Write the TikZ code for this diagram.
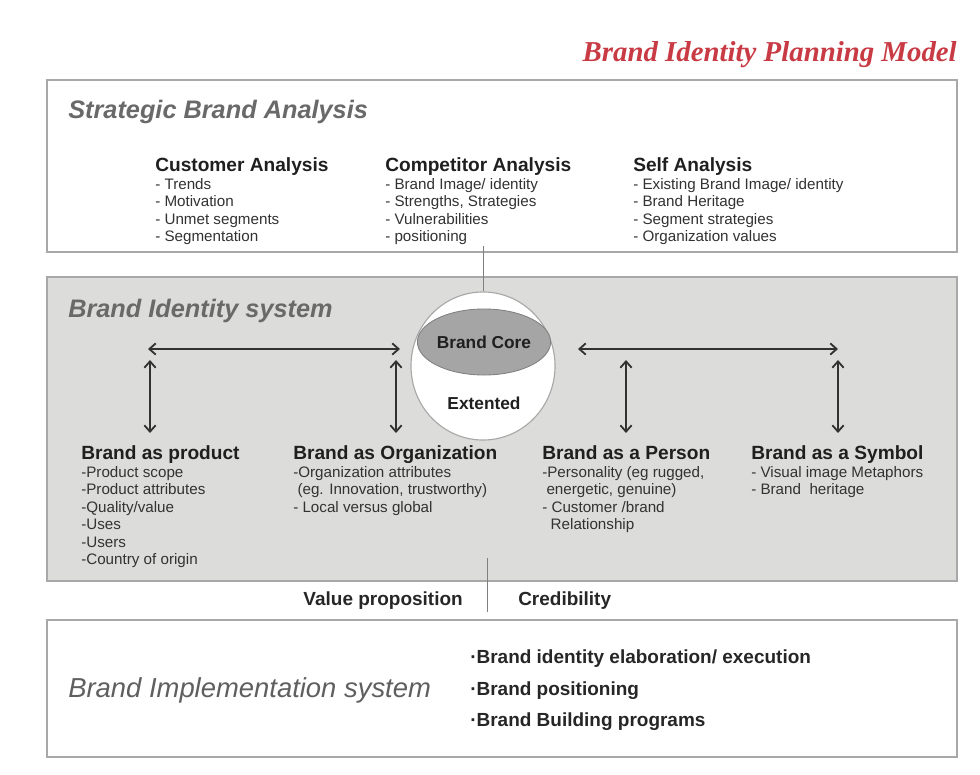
\documentclass[tikz,border=0pt]{standalone}
\usepackage{fontspec}
\setmainfont{Liberation Sans}
\newfontfamily\titlefont{Liberation Serif}
\usetikzlibrary{arrows.meta,shapes.geometric}
\definecolor{titlered}{RGB}{200,58,68}
\definecolor{panelgray}{RGB}{220,220,218}
\definecolor{framegray}{RGB}{168,168,168}
\definecolor{headgray}{RGB}{105,105,105}
\definecolor{coregray}{RGB}{165,165,165}
\definecolor{inkgray}{RGB}{50,50,50}

\begin{document}
\begin{tikzpicture}[x=0.025cm, y=-0.025cm,
    panel/.style={draw=framegray, line width=1.1pt},
    section/.style={anchor=base west, inner sep=0, text=headgray, font=\fontsize{18}{21}\selectfont\bfseries\itshape},
    head/.style={anchor=base west, inner sep=0, text=black!88, font=\fontsize{13.6}{15}\selectfont\bfseries},
    items/.style={anchor=north west, inner sep=0, align=left, text=inkgray, font=\fontsize{10.8}{12.35}\selectfont},
    tag/.style={anchor=base west, inner sep=0, text=black!85, font=\fontsize{13.5}{15}\selectfont\bfseries},
    dbl/.style={{Straight Barb[length=4.5pt,width=8pt]}-{Straight Barb[length=4.5pt,width=8pt]}, line width=1.3pt, draw=inkgray},
    feed/.style={draw=gray, line width=0.6pt}]
  \useasboundingbox (0,0) rectangle (980,775);

  \node[anchor=base east, inner sep=0, text=titlered, font=\titlefont\fontsize{20.5}{24}\selectfont\bfseries\itshape] (title) at (957,62) {Brand Identity Planning Model};

  % panels
  \draw[panel, fill=white] (47,80) rectangle (957,252);
  \draw[panel, fill=panelgray] (47,277) rectangle (957,581);
  \draw[panel, fill=white] (47,620) rectangle (957,757);

  % strategic brand analysis
  \node[section] (sba) at (68,119) {Strategic Brand Analysis};
  \node[head] (cust) at (155,171.5) {Customer Analysis};
  \node[items] (custL) at (155,178.3) {- Trends\\- Motivation\\- Unmet segments\\- Segmentation};
  \node[head] (comp) at (385,171.5) {Competitor Analysis};
  \node[items] (compL) at (385,178.3) {- Brand Image/ identity\\- Strengths, Strategies\\- Vulnerabilities\\- positioning};
  \node[head] (self) at (633,171.5) {Self Analysis};
  \node[items] (selfL) at (633,178.3) {- Existing Brand Image/ identity\\- Brand Heritage\\- Segment strategies\\- Organization values};

  % brand identity system
  \node[section] (bis) at (68,317) {Brand Identity system};
  \node[ellipse, draw=framegray, fill=white, line width=0.8pt, minimum width=3.6cm, minimum height=3.7cm] (ext) at (483,366) {};
  \node[ellipse, draw=gray, fill=coregray, line width=0.6pt, inner sep=0, minimum width=2.75cm, minimum height=1.65cm, text=black!88, font=\fontsize{12.3}{14}\selectfont\bfseries] (core) at (484,342) {Brand Core};
  \node[text=black!88, font=\fontsize{12.3}{14}\selectfont\bfseries] (extd) at (484,403) {Extented};

  \coordinate (top) at (483,246);
  \draw[feed] (top) -- (ext.north);

  \coordinate (hl1) at (148,349);
  \coordinate (hl2) at (400,349);
  \coordinate (hr1) at (578,349);
  \coordinate (hr2) at (838,349);
  \draw[dbl] (hl1) -- (hl2);
  \draw[dbl] (hr1) -- (hr2);

  \coordinate (p1) at (150,360);  \coordinate (p2) at (150,433);
  \coordinate (o1) at (396,360);  \coordinate (o2) at (396,433);
  \coordinate (a1) at (626,360);  \coordinate (a2) at (626,433);
  \coordinate (s1) at (838,360);  \coordinate (s2) at (838,433);
  \draw[dbl] (p1) -- (p2);
  \draw[dbl] (o1) -- (o2);
  \draw[dbl] (a1) -- (a2);
  \draw[dbl] (s1) -- (s2);

  \node[head] (prod) at (81,459.3) {Brand as product};
  \node[items] (prodL) at (81,466.3) {-Product scope\\-Product attributes\\-Quality/value\\-Uses\\-Users\\-Country of origin};
  \node[head] (org) at (293,459.3) {Brand as Organization};
  \node[items] (orgL) at (293,466.3) {-Organization attributes\\\ (eg. Innovation, trustworthy)\\- Local versus global};
  \node[head] (pers) at (542,459.3) {Brand as a Person};
  \node[items] (persL) at (542,466.3) {-Personality (eg rugged,\\\ energetic, genuine)\\- Customer /brand\\\ \ Relationship};
  \node[head] (symb) at (751,459.3) {Brand as a Symbol};
  \node[items] (symbL) at (751,466.3) {- Visual image Metaphors\\- Brand\ \ heritage};

  % value / credibility
  \coordinate (d1) at (487,558);
  \coordinate (d2) at (487,612);
  \draw[feed] (d1) -- (d2);
  \node[tag, anchor=base east] (val) at (463,605) {Value proposition};
  \node[tag] (cred) at (518,605) {Credibility};

  % brand implementation system
  \node[anchor=base west, inner sep=0, text=headgray!90!black, font=\fontsize{19.5}{22}\selectfont\itshape] (bim) at (68,697) {Brand Implementation system};
  \node[tag] (b1) at (470,663) {·Brand identity elaboration/ execution};
  \node[tag] (b2) at (470,695) {·Brand positioning};
  \node[tag] (b3) at (470,726) {·Brand Building programs};
\end{tikzpicture}
\end{document}
